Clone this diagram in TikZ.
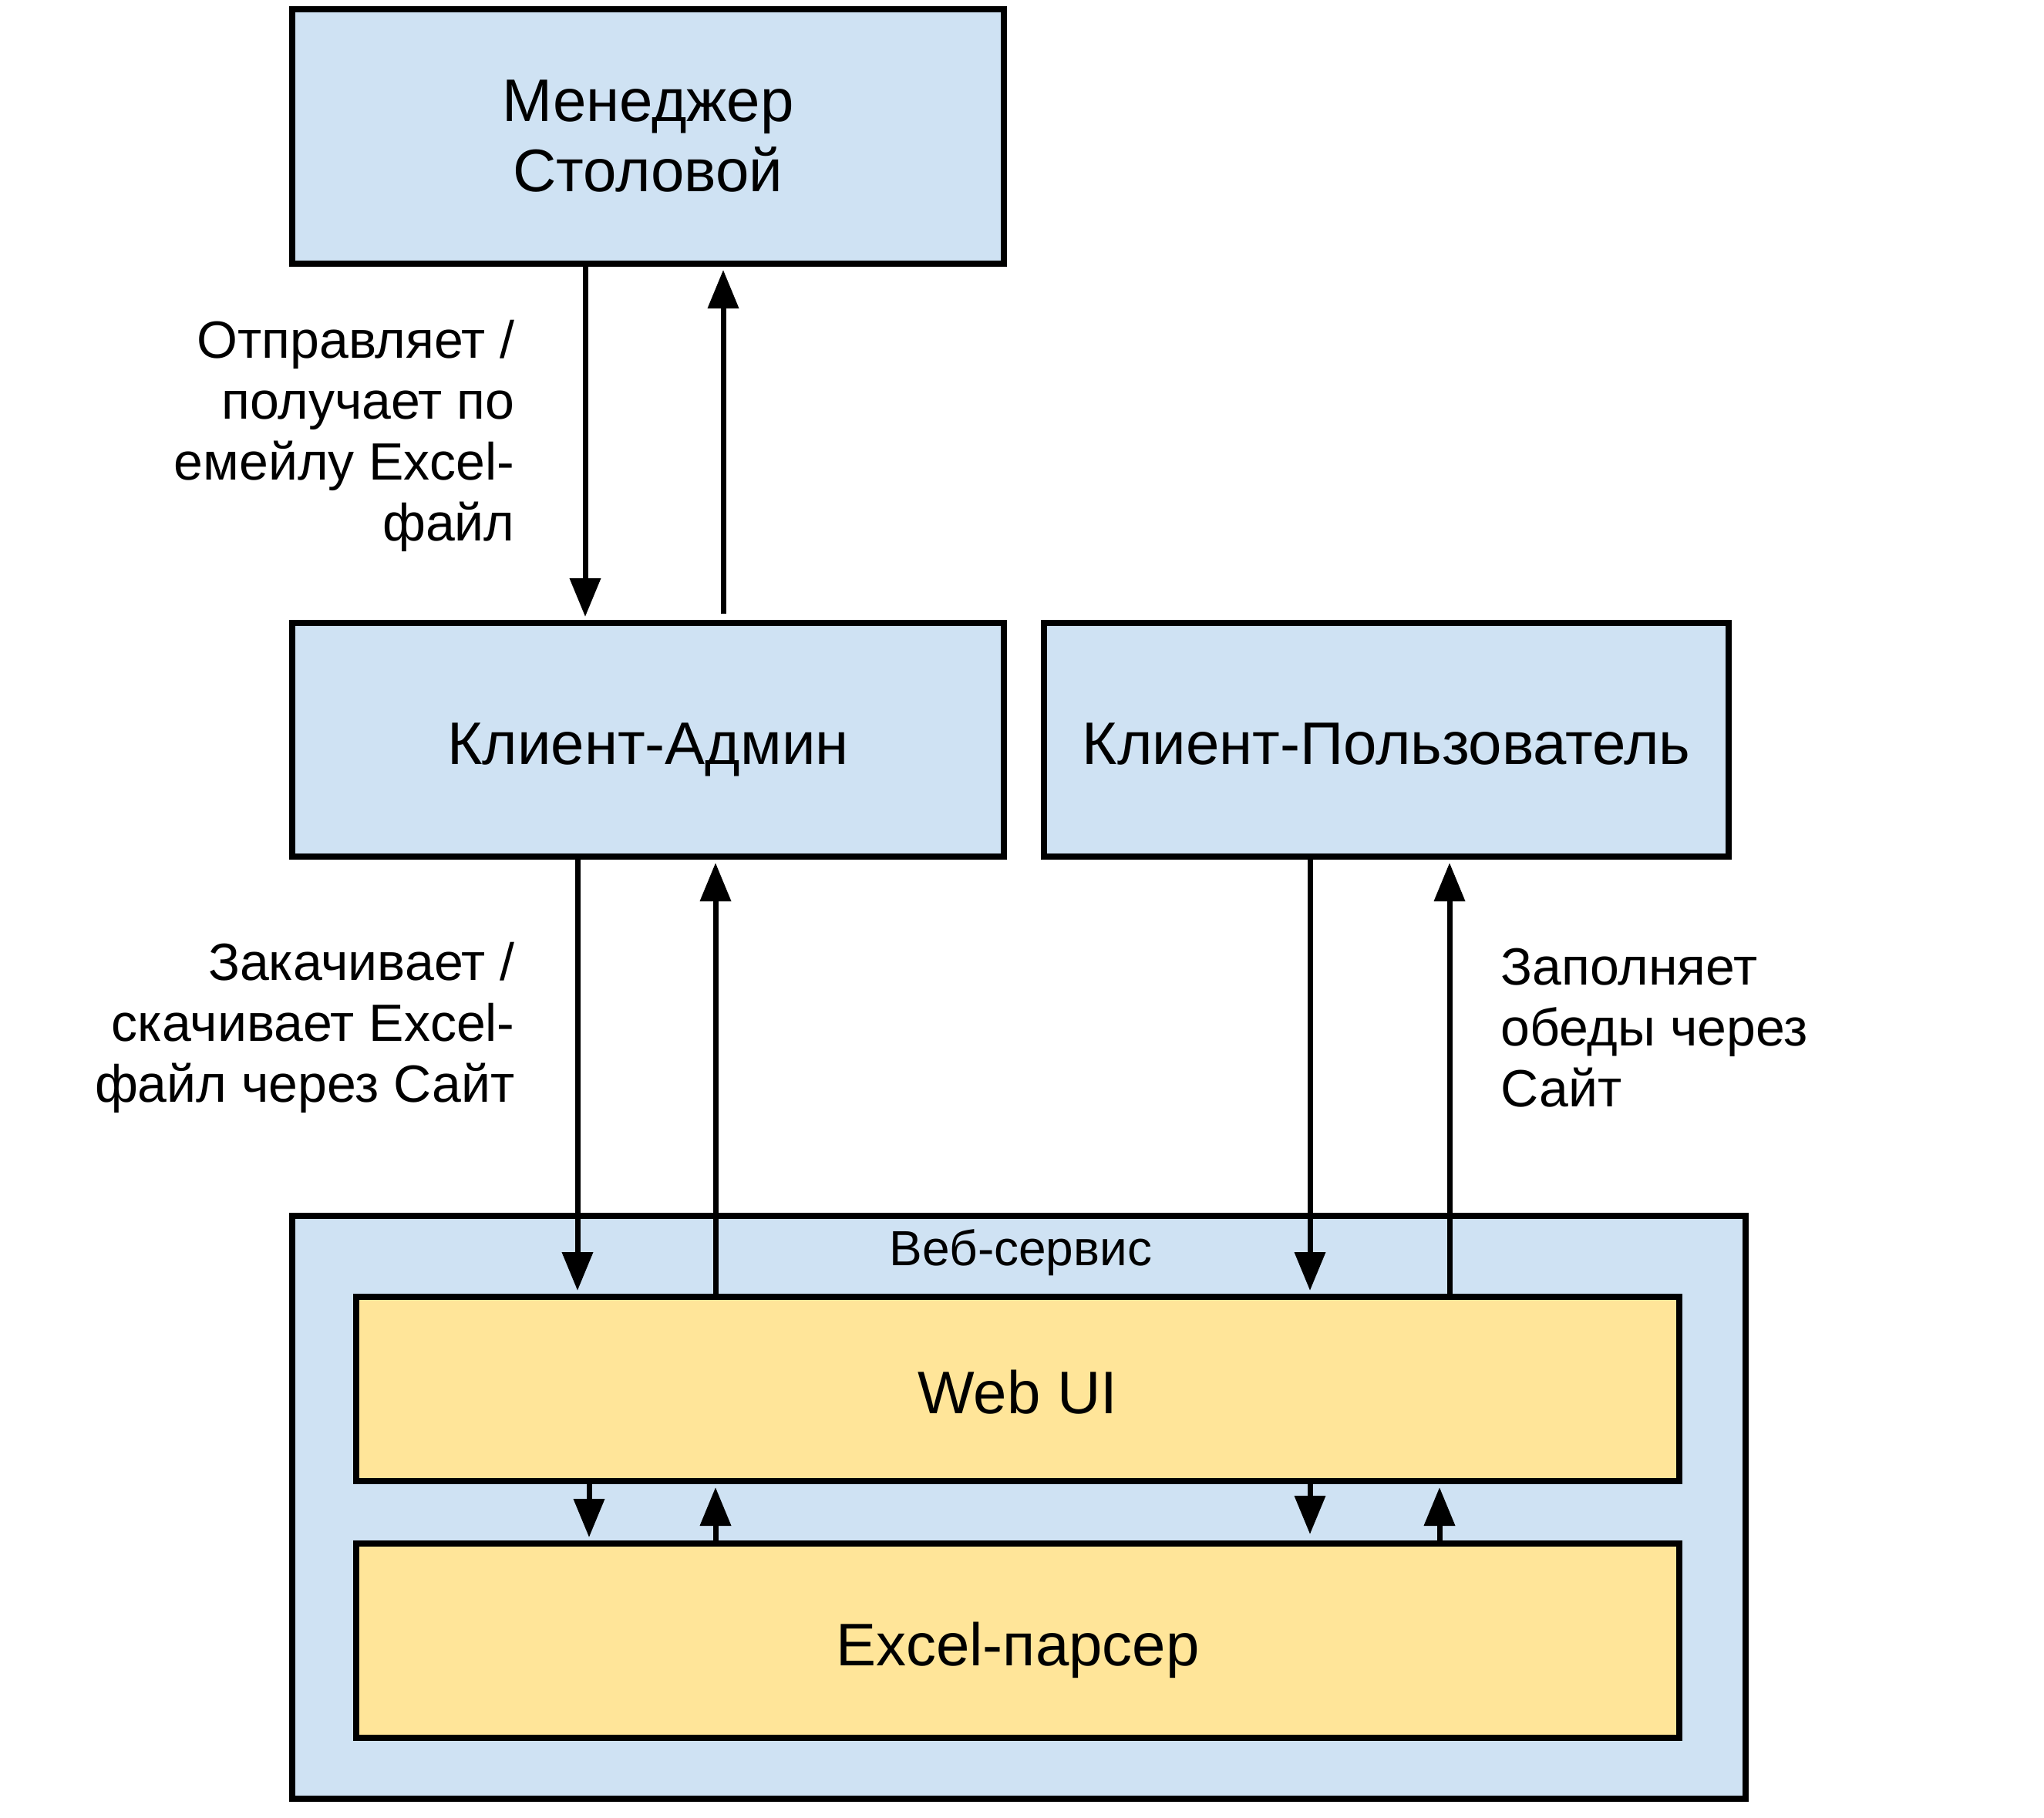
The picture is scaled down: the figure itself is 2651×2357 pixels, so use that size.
\documentclass[tikz,border=0pt]{standalone}
\usepackage{fontspec}
\setmainfont{Liberation Sans}
\usetikzlibrary{arrows.meta}
\definecolor{boxblue}{HTML}{CFE2F3}
\definecolor{boxyellow}{HTML}{FFE599}
\begin{document}
\begin{tikzpicture}[x=0.5pt,y=-0.5pt,
  bluebox/.style={draw=black,line width=4pt,fill=boxblue,rectangle,inner sep=0pt,align=center,
    font=\fontsize{39pt}{44.5pt}\selectfont},
  yellowbox/.style={draw=black,line width=4pt,fill=boxyellow,rectangle,inner sep=0pt,align=center,
    font=\fontsize{39pt}{44.5pt}\selectfont},
  oneline/.style={text height=32pt,text depth=0pt},
  lbl/.style={inner sep=0pt,font=\fontsize{34pt}{39.5pt}\selectfont},
  arr/.style={line width=3.5pt,shorten >=2pt,-{Triangle[length=25pt,width=19.5pt]}}]
\useasboundingbox (0,0) rectangle (2651,2357);
\node[bluebox,minimum width=942.5pt,minimum height=378pt] (web) at (1321.5,1955) {};
\node[inner sep=0pt,font=\fontsize{32pt}{38pt}\selectfont] (weblbl) at (1324,1625) {Веб-сервис};
\node[bluebox,minimum width=461.5pt,minimum height=165pt] (mgr) at (840.5,177) {Менеджер\\[1pt]Столовой};
\node[bluebox,oneline,minimum width=461.5pt,minimum height=151.5pt] (adm) at (840.5,959.5) {Клиент-Админ};
\node[bluebox,oneline,minimum width=444pt,minimum height=151.5pt] (usr) at (1798,959.5) {Клиент-Пользователь};
\node[yellowbox,oneline,minimum width=858pt,minimum height=119.5pt] (ui) at (1320,1801.5) {Web UI};
\node[yellowbox,oneline,minimum width=858pt,minimum height=126pt] (prs) at (1320,2128) {Excel-парсер};
% labels
\node[lbl,anchor=east,align=right] (l1) at (668,565) {Отправляет /\\получает по\\емейлу Excel-\\файл};
\node[lbl,anchor=east,align=right] (l2) at (668,1333) {Закачивает /\\скачивает Excel-\\файл через Сайт};
\node[lbl,anchor=west,align=left] (l3) at (1946,1333) {Заполняет\\обеды через\\Сайт};
% manager <-> admin
\draw[arr] ([xshift=-40.75pt]mgr.south) -- ([xshift=-40.75pt]adm.north);
\draw[arr,shorten <=4pt] ([xshift=48.75pt]adm.north) -- ([xshift=48.75pt]mgr.south);
% admin <-> web ui
\draw[arr] ([xshift=-45.75pt]adm.south) -- ([xshift=-45.75pt]adm.south |- ui.north);
\draw[arr] ([xshift=43.75pt]adm.south |- ui.north) -- ([xshift=43.75pt]adm.south);
% user <-> web ui
\draw[arr] ([xshift=-49.5pt]usr.south) -- ([xshift=-49.5pt]usr.south |- ui.north);
\draw[arr] ([xshift=41pt]usr.south |- ui.north) -- ([xshift=41pt]usr.south);
% web ui <-> parser
\draw[arr] ([xshift=-278pt]ui.south) -- ([xshift=-278pt]prs.north);
\draw[arr] ([xshift=-196pt]prs.north) -- ([xshift=-196pt]ui.south);
\draw[arr,shorten >=4pt] ([xshift=189.5pt]ui.south) -- ([xshift=189.5pt]prs.north);
\draw[arr] ([xshift=273.5pt]prs.north) -- ([xshift=273.5pt]ui.south);
\end{tikzpicture}
\end{document}
